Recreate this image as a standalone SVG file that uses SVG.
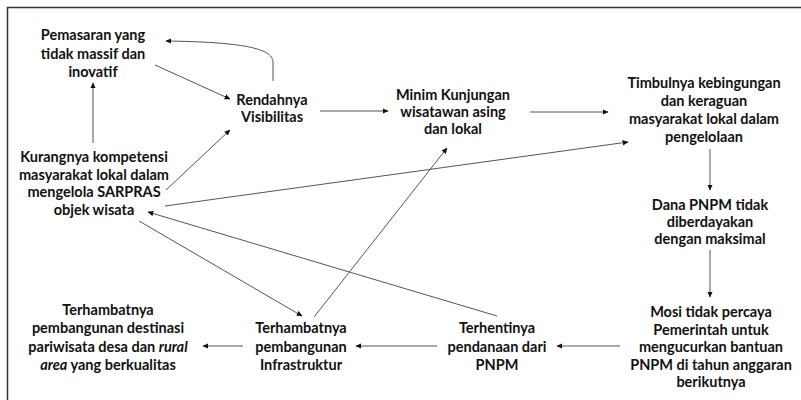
<svg xmlns="http://www.w3.org/2000/svg" width="801" height="400" viewBox="0 0 801 400">
<style>
text{font-family:Lato,"Open Sans","Liberation Sans",sans-serif;font-weight:700;font-size:14.5px;fill:#111;text-anchor:middle}
.c{stroke:#555;stroke-width:1;fill:none;marker-end:url(#ah)}
</style>
<defs>
<marker id="ah" viewBox="0 0 10 10" refX="9" refY="5" markerWidth="6" markerHeight="6" markerUnits="userSpaceOnUse" orient="auto">
<path d="M0,0.5 L10,5 L0,9.5 Z" fill="#111"/>
</marker>
</defs>
<rect x="0" y="0" width="801" height="400" fill="#fff"/>
<rect x="7.5" y="7.5" width="800" height="400" fill="none" stroke="#333" stroke-width="1.5"/>
<g id="connectors">
<path class="c" d="M273,81 L273,62 C273,48 240,42 166,41"/>
<path class="c" d="M155,65 L230,99"/>
<path class="c" d="M93,143 L93,83"/>
<path class="c" d="M166,190 L230,130"/>
<path class="c" d="M320,111 L388,111"/>
<path class="c" d="M530,112 L608,112"/>
<path class="c" d="M165,206 L628,142"/>
<path class="c" d="M710,149 L710,190"/>
<path class="c" d="M710,250 L710,297"/>
<path class="c" d="M620,346 L557,346"/>
<path class="c" d="M497,316 L148,212"/>
<path class="c" d="M139,221 L302,316"/>
<path class="c" d="M314,317 L447,148"/>
<path class="c" d="M437,346 L356,346"/>
<path class="c" d="M243,346 L203,346"/>
</g>
<g id="pemasaran"><text x="93" y="40">Pemasaran yang</text><text x="93" y="58.5">tidak massif dan</text><text x="93" y="77">inovatif</text></g>
<g id="rendahnya"><text x="272" y="105">Rendahnya</text><text x="272" y="122">Visibilitas</text></g>
<g id="kurangnya"><text x="94" y="162">Kurangnya kompetensi</text><text x="94" y="179.5">masyarakat lokal dalam</text><text x="94" y="197">mengelola SARPRAS</text><text x="94" y="214.5">objek wisata</text></g>
<g id="minim"><text x="453" y="100">Minim Kunjungan</text><text x="453" y="117">wisatawan asing</text><text x="453" y="134">dan lokal</text></g>
<g id="timbulnya"><text x="704" y="88">Timbulnya kebingungan</text><text x="704" y="106">dan keraguan</text><text x="704" y="124">masyarakat lokal dalam</text><text x="704" y="142">pengelolaan</text></g>
<g id="dana"><text x="710" y="210">Dana PNPM tidak</text><text x="710" y="227">diberdayakan</text><text x="710" y="244">dengan maksimal</text></g>
<g id="mosi"><text x="711" y="317">Mosi tidak percaya</text><text x="711" y="334.5">Pemerintah untuk</text><text x="711" y="352">mengucurkan bantuan</text><text x="711" y="369.5">PNPM di tahun anggaran</text><text x="711" y="387">berikutnya</text></g>
<g id="terhentinya"><text x="497" y="333">Terhentinya</text><text x="497" y="351.5">pendanaan dari</text><text x="497" y="370">PNPM</text></g>
<g id="infrastruktur"><text x="301" y="333">Terhambatnya</text><text x="301" y="351.5">pembangunan</text><text x="301" y="370">Infrastruktur</text></g>
<g id="destinasi"><text x="108" y="315">Terhambatnya</text><text x="108" y="333">pembangunan destinasi</text><text x="108" y="351.5">pariwisata desa dan <tspan font-style="italic">rural</tspan></text><text x="108" y="370"><tspan font-style="italic">area</tspan> yang berkualitas</text></g>
</svg>
